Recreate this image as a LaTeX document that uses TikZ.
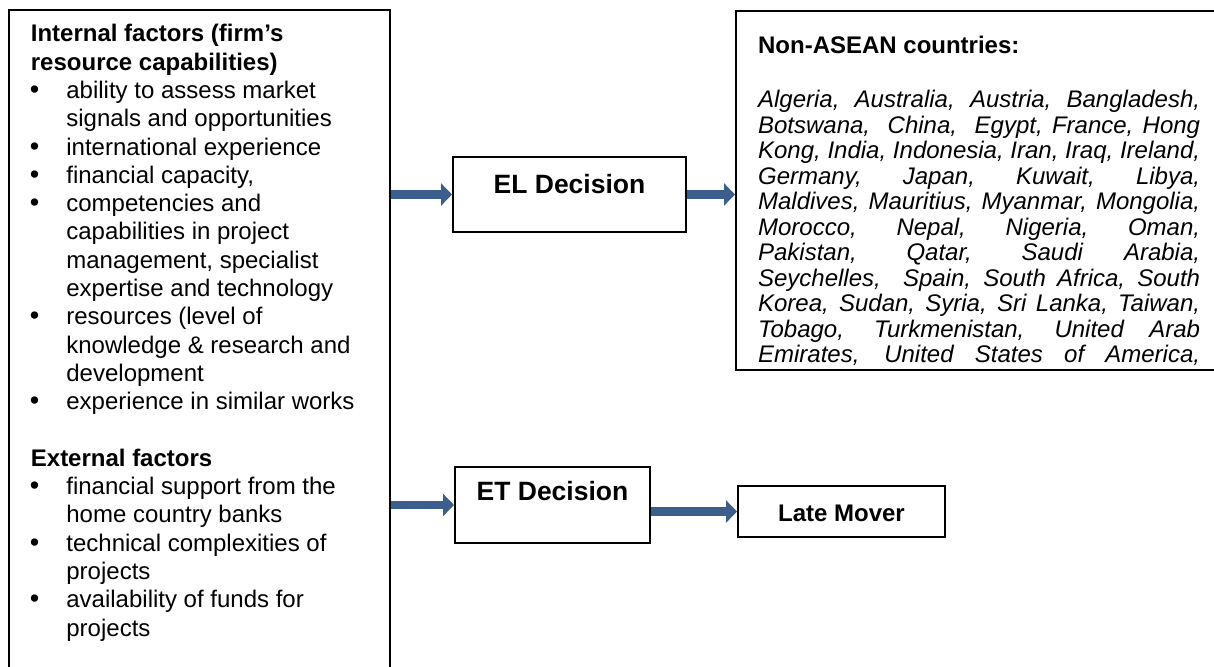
\documentclass[tikz,border=0pt]{standalone}
\usepackage{fontspec}
\setmainfont{Liberation Sans}
\usetikzlibrary{arrows.meta,fit}
\definecolor{arrowblue}{RGB}{59,94,140}
\begin{document}
\begin{tikzpicture}[x=0.5pt,y=-0.5pt,
  box/.style={draw, line width=1pt, inner sep=0pt},
  lt/.style={anchor=base west, inner sep=0pt, font=\fontsize{12}{14}\selectfont},
  hd/.style={lt, font=\fontsize{12}{14}\selectfont\bfseries},
  bul/.style={anchor=base west, inner sep=0pt, font=\fontsize{13.5}{14}\selectfont},
  ct/.style={anchor=base west, inner sep=0pt, font=\fontsize{12}{14}\selectfont\itshape},
  dec/.style={anchor=base, inner sep=0pt, font=\fontsize{13.25}{15}\selectfont\bfseries},
  barrow/.style={draw=arrowblue, line width=4.2pt, -{Triangle[length=5.5pt,width=11pt]}}]
\useasboundingbox (0,0) rectangle (1214,666);

% boxes
\node[box, fit={(9,10)(390,720)}] (left) {};
\node[box, fit={(453,157)(686,232)}] (el) {};
\node[box, fit={(736,11)(1230,370)}] (right) {};
\node[box, fit={(455,467)(650,543)}] (et) {};
\node[box, fit={(738,486)(945,537)}] (lm) {};

% left box text
\def\tx{66}
\def\bx{29.5}
\node[hd] (l0) at (30.5,41.8) {Internal factors (firm’s};
\node[hd] (l1) at (30.5,70.1) {resource capabilities)};
\node[bul] (b2) at (\bx,98.4) {\textbullet};
\node[lt] (l2) at (\tx,98.4) {ability to assess market};
\node[lt] (l3) at (\tx,126.7) {signals and opportunities};
\node[bul] (b4) at (\bx,155.0) {\textbullet};
\node[lt] (l4) at (\tx,155.0) {international experience};
\node[bul] (b5) at (\bx,183.3) {\textbullet};
\node[lt] (l5) at (\tx,183.3) {financial capacity,};
\node[bul] (b6) at (\bx,211.6) {\textbullet};
\node[lt] (l6) at (\tx,211.6) {competencies and};
\node[lt] (l7) at (\tx,239.9) {capabilities in project};
\node[lt] (l8) at (\tx,268.2) {management, specialist};
\node[lt] (l9) at (\tx,296.5) {expertise and technology};
\node[bul] (b10) at (\bx,324.8) {\textbullet};
\node[lt] (l10) at (\tx,324.8) {resources (level of};
\node[lt] (l11) at (\tx,353.1) {knowledge \& research and};
\node[lt] (l12) at (\tx,381.4) {development};
\node[bul] (b13) at (\bx,409.7) {\textbullet};
\node[lt] (l13) at (\tx,409.7) {experience in similar works};
\node[hd] (l15) at (30.5,466.3) {External factors};
\node[bul] (b16) at (\bx,494.6) {\textbullet};
\node[lt] (l16) at (\tx,494.6) {financial support from the};
\node[lt] (l17) at (\tx,522.9) {home country banks};
\node[bul] (b18) at (\bx,551.2) {\textbullet};
\node[lt] (l18) at (\tx,551.2) {technical complexities of};
\node[lt] (l19) at (\tx,579.5) {projects};
\node[bul] (b20) at (\bx,607.8) {\textbullet};
\node[lt] (l20) at (\tx,607.8) {availability of funds for};
\node[lt] (l21) at (\tx,636.1) {projects};

% decision labels
\node[dec] (elt) at (569.5,193) {EL Decision};
\node[dec] (ett) at (552.5,500) {ET Decision};
\node[dec, font=\fontsize{12}{14}\selectfont\bfseries] (lmt) at (841.5,521) {Late Mover};

% right box text
\def\rx{757.7}
\newcommand\jline[1]{\makebox[221pt][s]{#1}}
\node[hd] (rh) at (\rx,53) {Non-ASEAN countries:};
\node[ct] (r0) at (\rx,107.5) {\jline{Algeria, Australia, Austria, Bangladesh,}};
\node[ct] (r1) at (\rx,133.0) {\jline{Botswana,\ \ China,\ \ Egypt, France, Hong}};
\node[ct] (r2) at (\rx,158.5) {\jline{Kong, India, Indonesia, Iran, Iraq, Ireland,}};
\node[ct] (r3) at (\rx,184.0) {\jline{Germany, Japan, Kuwait, Libya,}};
\node[ct] (r4) at (\rx,209.5) {\jline{Maldives, Mauritius, Myanmar, Mongolia,}};
\node[ct] (r5) at (\rx,235.0) {\jline{Morocco, Nepal, Nigeria, Oman,}};
\node[ct] (r6) at (\rx,260.5) {\jline{Pakistan, Qatar, Saudi Arabia,}};
\node[ct] (r7) at (\rx,286.0) {\jline{Seychelles,\ \ Spain, South Africa, South}};
\node[ct] (r8) at (\rx,311.5) {\jline{Korea, Sudan, Syria, Sri Lanka, Taiwan,}};
\node[ct] (r9) at (\rx,337.0) {\jline{Tobago, Turkmenistan, United Arab}};
\node[ct] (r10) at (\rx,362.5) {\jline{Emirates, United States of America,}};

% arrows
\draw[barrow] (left.east |- el.west) -- (el.west);
\draw[barrow] (el.east) -- (right.west |- el.east);
\draw[barrow] (left.east |- et.west) -- (et.west);
\draw[barrow] (et.east |- lm.west) -- (lm.west);
\end{tikzpicture}
\end{document}
